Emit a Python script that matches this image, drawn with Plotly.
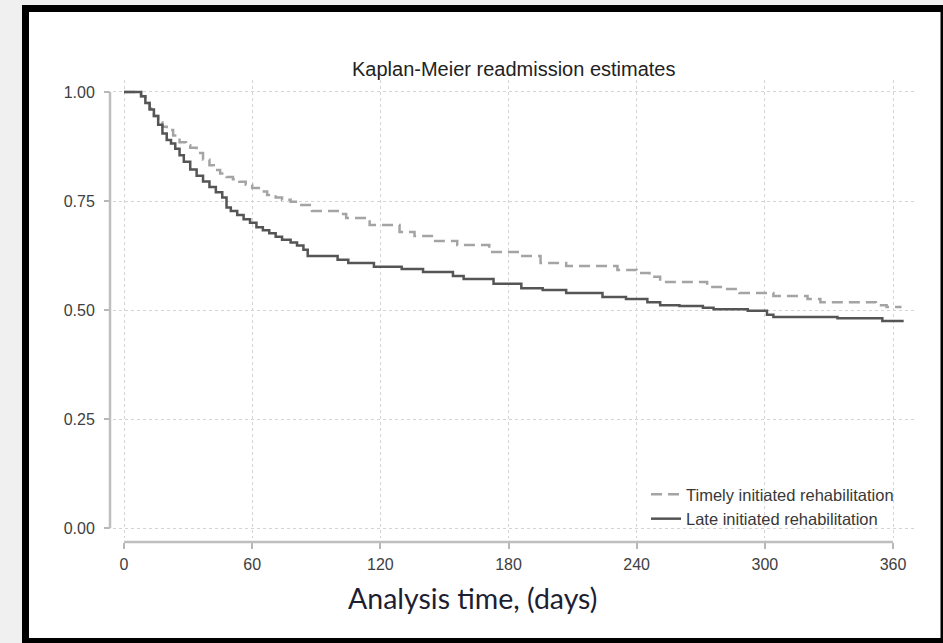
import plotly.graph_objects as go

# ---- data ----
late_t = [0, 8, 10, 12, 14, 16, 18, 20, 22, 24, 26, 28, 31, 34, 37, 40, 43, 46, 48, 50,
          53, 56, 59, 62, 65, 68, 71, 74, 78, 81, 84, 86, 100, 105, 117, 130, 140, 154,
          159, 173, 186, 196, 207, 224, 235, 245, 251, 260, 271, 276, 292, 301, 304, 334,
          355, 365]
late_s = [1.0, 0.99, 0.975, 0.96, 0.945, 0.925, 0.905, 0.89, 0.882, 0.87, 0.855, 0.84,
          0.822, 0.808, 0.795, 0.782, 0.77, 0.758, 0.735, 0.727, 0.718, 0.708, 0.70, 0.69,
          0.683, 0.676, 0.668, 0.661, 0.655, 0.648, 0.638, 0.624, 0.615, 0.608, 0.599,
          0.594, 0.587, 0.578, 0.571, 0.56, 0.55, 0.546, 0.539, 0.53, 0.525, 0.518, 0.511,
          0.509, 0.505, 0.502, 0.498, 0.489, 0.484, 0.481, 0.475, 0.475]

timely_t = [0, 8, 10, 12, 14, 16, 18, 20, 23, 26, 29, 31, 34, 37, 40, 42, 45, 48, 51, 54,
            57, 60, 64, 67, 71, 74, 78, 82, 88, 101, 104, 115, 129, 136, 145, 156, 171,
            185, 195, 207, 231, 240, 246, 251, 273, 280, 288, 304, 320, 326, 352, 357, 364]
timely_s = [1.0, 0.99, 0.975, 0.962, 0.945, 0.93, 0.92, 0.913, 0.9, 0.885, 0.878, 0.872,
            0.86, 0.845, 0.832, 0.821, 0.813, 0.805, 0.8, 0.794, 0.787, 0.78, 0.772, 0.764,
            0.758, 0.753, 0.748, 0.741, 0.727, 0.72, 0.711, 0.695, 0.679, 0.67, 0.658,
            0.649, 0.633, 0.624, 0.608, 0.601, 0.592, 0.585, 0.576, 0.564, 0.553, 0.548,
            0.539, 0.532, 0.525, 0.518, 0.511, 0.507, 0.507]

x_ticks = [0, 60, 120, 180, 240, 300, 360]
y_ticks = [0.0, 0.25, 0.5, 0.75, 1.0]
series_names = ["Timely initiated rehabilitation", "Late initiated rehabilitation"]
title_text = "Kaplan-Meier readmission estimates"
x_title = "Analysis time, (days)"

# ---- layout geometry (pixels) ----
W, H = 943, 643
L, R, T, B = 110, 28, 80, 101
PW, PH = W - L - R, H - T - B


def px(xp):
    return (xp - L) / PW


def py(yp):
    return (H - B - yp) / PH


fig = go.Figure()
fig.add_trace(go.Scatter(
    x=timely_t, y=timely_s, mode="lines", line_shape="hv", name=series_names[0],
    line=dict(color="#a4a4a4", width=2.5, dash="11px,6px")))
fig.add_trace(go.Scatter(
    x=late_t, y=late_s, mode="lines", line_shape="hv", name=series_names[1],
    line=dict(color="#555555", width=2.5)))

tick_font = dict(family="Liberation Sans, Arial, sans-serif", size=16, color="#404040")
legend_font = dict(family="Liberation Sans, Arial, sans-serif", size=16.5, color="#383838")

fig.update_layout(
    width=W, height=H,
    margin=dict(l=L, r=R, t=T, b=B, autoexpand=False),
    paper_bgcolor="#f0f0f0",
    plot_bgcolor="rgba(0,0,0,0)",
    showlegend=True,
    legend=dict(x=px(646), y=py(477), xanchor="left", yanchor="top",
                bgcolor="rgba(0,0,0,0)", font=legend_font, itemwidth=30),
    xaxis=dict(domain=[px(113), 1], range=[-5.15, 370.3], anchor="free", position=0,
               tickvals=x_ticks, ticks="outside", ticklen=6, tickwidth=1.5,
               tickcolor="#b8b8b8", showline=False, zeroline=False,
               showgrid=True, gridcolor="#d4d4d4", griddash="dot", gridwidth=1,
               tickfont=tick_font, ticklabelstandoff=2, automargin=False),
    yaxis=dict(domain=[py(538), 1], range=[-0.0229, 1.0275], anchor="free", position=0,
               tickvals=y_ticks, tickformat=".2f", ticks="outside", ticklen=6,
               tickwidth=1.5, tickcolor="#b8b8b8", showline=False, zeroline=False,
               showgrid=True, gridcolor="#d4d4d4", griddash="dot", gridwidth=1,
               tickfont=tick_font, ticklabelstandoff=6, automargin=False),
    shapes=[
        dict(type="rect", xref="paper", yref="paper", x0=px(25.5), x1=px(944),
             y0=py(8.5), y1=py(641.5), fillcolor="white",
             line=dict(color="black", width=7), layer="below"),
        dict(type="line", xref="paper", yref="y", x0=0, x1=0, y0=0, y1=1,
             line=dict(color="#bebebe", width=2.5)),
        dict(type="line", xref="x", yref="paper", x0=0, x1=360, y0=0, y1=0,
             line=dict(color="#bebebe", width=2.5)),
    ],
    annotations=[
        dict(text=title_text, xref="paper", yref="paper", x=px(513), y=py(69),
             xanchor="center", yanchor="middle", showarrow=False,
             font=dict(family="Liberation Sans, Arial, sans-serif", size=20,
                       color="#222222")),
        dict(text=x_title, xref="paper", yref="paper", x=px(472), y=py(598),
             xanchor="center", yanchor="middle", showarrow=False,
             font=dict(family="Lato, Carlito, sans-serif", size=28.5, color="#1e1e32")),
    ],
)

fig.write_html(
    "out.html",
    config={"displayModeBar": False},
    post_script=("document.documentElement.style.background='#f0f0f0';"
                 "document.body.style.margin='0';document.body.style.overflow='hidden';"),
)
